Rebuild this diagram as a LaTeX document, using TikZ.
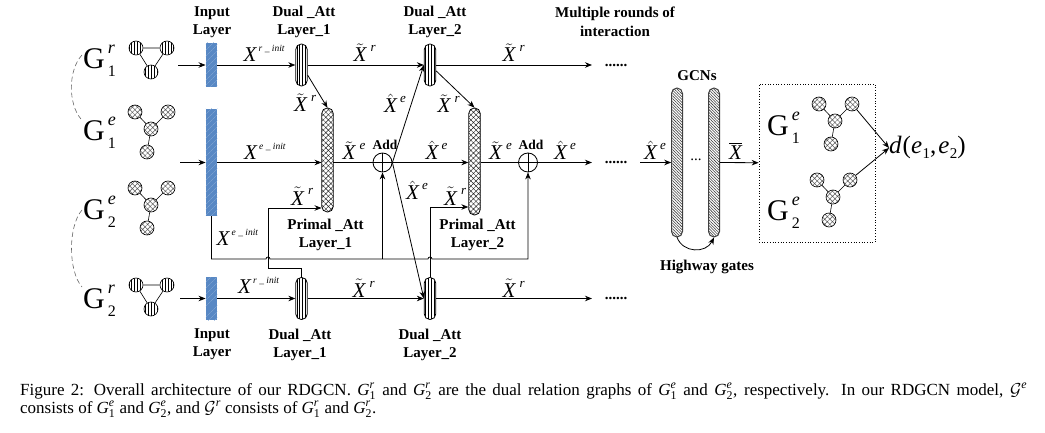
\documentclass[tikz,border=0pt]{standalone}
\usepackage{fontspec}
\usepackage{amsmath}
\setmainfont{Liberation Serif}
\usetikzlibrary{arrows.meta,patterns,patterns.meta,calc}
\definecolor{barblue}{RGB}{88,136,196}
\newcommand{\Xt}{$\tilde{\text{\itshape X}}$}
\newcommand{\Xh}{$\hat{\text{\itshape X}}$}
\newcommand{\Xb}{$\overline{\text{\itshape X}}$}
\newcommand{\lX}[4][13]{{\fontsize{21}{22}\selectfont #3\raisebox{10pt}{\fontsize{#1}{#1}\selectfont\itshape\kern#2 #4}}}
\newcommand{\Glab}[2]{{\fontsize{30}{30}\selectfont G\kern3pt\rlap{\raisebox{15pt}{\fontsize{18}{18}\selectfont\itshape #1}}\raisebox{-8pt}{\fontsize{16}{16}\selectfont #2}}}
\newcommand{\Gc}[2]{\textit{G}${}^{\text{\itshape #1}}_{\text{#2}}$}
\newcommand{\Gcal}[1]{$\mathcal{G}^{\text{\itshape #1}}$}
\newcommand{\mkEG}[3]{%
  \node[enode] (#1c) at (#2,#3) {};
  \node[enode] (#1a) at ($(#1c)+(-16,-17)$) {};
  \node[enode] (#1b) at ($(#1c)+(17,-17)$) {};
  \node[enode] (#1d) at ($(#1c)+(-4,23)$) {};
  \draw[line width=0.6pt] (#1c) -- (#1a) (#1c) -- (#1b) (#1c) -- (#1d);}
\newcommand{\mkRG}[3]{%
  \node[rnode] (#1a) at (#2,#3) {};
  \node[rnode] (#1b) at ($(#1a)+(31,0)$) {};
  \node[rnode] (#1c) at ($(#1a)+(15,24)$) {};
  \draw[line width=0.6pt] (#1a) -- (#1b) (#1a) -- (#1c) (#1b) -- (#1c);}
\begin{document}
\begin{tikzpicture}[x=1pt,y=-1pt,
  lbl/.style={inner sep=0pt, align=center, font=\bfseries\fontsize{15}{18.5}\selectfont},
  addl/.style={inner sep=0pt, font=\bfseries\fontsize{13.5}{14}\selectfont},
  lab/.style={inner sep=0pt, anchor=base west},
  dotsl/.style={inner sep=0pt, font=\bfseries\fontsize{15}{15}\selectfont},
  dual/.style={draw, line width=0.8pt, rounded corners=5.5pt, minimum width=11.5pt, minimum height=42pt, inner sep=0pt, pattern={Lines[angle=90,distance=2.8pt,line width=0.6pt]}},
  primal/.style={draw, line width=0.8pt, rounded corners=5.5pt, minimum width=11.5pt, minimum height=104pt, inner sep=0pt, pattern={Hatch[angle=45,distance=3.6pt,line width=0.45pt]}, pattern color=black!85},
  gcn/.style={draw=black!75, line width=1pt, rounded corners=5.5pt, minimum width=11pt, minimum height=149pt, inner sep=0pt, pattern={Lines[angle=-45,distance=2pt,line width=0.55pt]}, pattern color=black!80},
  inbar/.style={fill=barblue, minimum width=11.5pt, inner sep=0pt, postaction={pattern={Lines[angle=45,distance=4pt,line width=0.4pt]}, pattern color=barblue!70!white}},
  enode/.style={circle, draw, line width=0.6pt, minimum size=14pt, inner sep=0pt, pattern={Hatch[angle=45,distance=3.6pt,line width=0.5pt]}, pattern color=black!65},
  rnode/.style={circle, draw, line width=0.6pt, minimum size=14pt, inner sep=0pt, pattern={Lines[angle=90,distance=2.8pt,line width=0.6pt]}},
  addc/.style={circle, draw, line width=0.8pt, minimum size=19pt, inner sep=0pt, path picture={\draw[line width=0.8pt] (path picture bounding box.north) -- (path picture bounding box.south) (path picture bounding box.west) -- (path picture bounding box.east);}},
  arr/.style={-{Stealth[length=7pt,width=5.5pt]}, line width=0.8pt},
  ln/.style={line width=0.8pt},
  gdash/.style={dashed, dash pattern=on 5pt off 3pt, line width=0.6pt, black!60}
]
\useasboundingbox (0,0) rectangle (1045,433);

% ---------- left graph labels ----------
\node[lab] (G1r) at (83,69) {\Glab{r}{1}};
\node[lab] (G1e) at (83,141) {\Glab{e}{1}};
\node[lab] (G2e) at (83,219) {\Glab{e}{2}};
\node[lab] (G2r) at (83,308) {\Glab{r}{2}};
\coordinate (da1) at (82,55);
\coordinate (da2) at (81,119);
\coordinate (db1) at (82,210);
\coordinate (db2) at (82,287);
\draw[gdash] (da1) .. controls (68,70) and (68,104) .. (da2);
\draw[gdash] (db1) .. controls (68,226) and (68,271) .. (db2);

\mkRG{ra}{136}{48}
\mkEG{ea}{151}{129}
\mkEG{eb}{151}{205}
\mkRG{rb}{136}{285}

% ---------- input layers ----------
\node[inbar, minimum height=44pt] (in1) at (211.5,65) {};
\node[inbar, minimum height=107pt] (in2) at (211.5,162.5) {};
\node[inbar, minimum height=43pt] (in3) at (211.5,298.5) {};
\coordinate (s1) at (178,65);
\coordinate (s2) at (180,162.5);
\coordinate (s3) at (180,298.5);
\draw[arr] (s1) -- (in1);
\draw[arr] (s2) -- (in2);
\draw[arr] (s3) -- (in3);

% ---------- attention layers ----------
\node[dual] (d1t) at (301.5,65) {};
\node[dual] (d2t) at (430,65) {};
\node[dual] (d1b) at (301.5,298.5) {};
\node[dual] (d2b) at (430,298.5) {};
\node[primal] (p1) at (327.5,160) {};
\node[primal, minimum height=107pt] (p2) at (474.5,161.5) {};
\node[addc] (add1) at (382.5,162.5) {};
\node[addc] (add2) at (528,162.5) {};

% ---------- text labels ----------
\node[lbl] at (212,22) {Input\\Layer};
\node[lbl] at (304,22) {Dual \_Att\\Layer\_1};
\node[lbl] at (435,22) {Dual \_Att\\Layer\_2};
\node[lbl] at (615,22) {Multiple rounds of\\interaction};
\node[lbl] at (212,344) {Input\\Layer};
\node[lbl] at (300,345) {Dual \_Att\\Layer\_1};
\node[lbl] at (430,345) {Dual \_Att\\Layer\_2};
\node[lbl] at (325.5,235) {Primal \_Att\\Layer\_1};
\node[lbl] at (477.5,235) {Primal \_Att\\Layer\_2};
\node[addl] at (385,145) {Add};
\node[addl] at (531,145) {Add};

% ---------- rows ----------
\coordinate (e1) at (592,65);
\coordinate (e2) at (592,162.5);
\coordinate (e3) at (592,298.5);
\node[dotsl] at (616,65) {......};
\node[dotsl] at (616,162.5) {......};
\node[dotsl] at (616,298.5) {......};

\draw[arr] (in1) -- (d1t);
\draw[arr] (d1t) -- (d2t);
\draw[arr] (d2t) -- (e1);
\draw[arr] (d1t) -- (p1.north);
\draw[arr] (in2) -- (in2 -| p1.west);
\draw[ln] (add1 -| p1.east) -- (add1);
\draw[arr] (add1) -- (add1 -| p2.west);
\draw[arr] (add1.east) -- (d2t.west);
\draw[arr] (add1.east) -- (d2b.west);
\draw[arr] (d2t) -- (p2.north);
\draw[ln] (add2 -| p2.east) -- (add2);
\draw[arr] (add2) -- (e2);
\draw[arr] (in3) -- (d1b);
\draw[arr] (d1b) -- (d2b);
\draw[arr] (d2b) -- (e3);

\coordinate (c1) at (268,268);
\coordinate (h1) at (0,208);
\coordinate (h2) at (0,207);
\draw[arr] (d1b.north) |- (c1) |- (p1.west |- h1);
\draw[arr] (d2b.north) |- (p2.west |- h2);
\coordinate (la) at (266,259);
\coordinate (lb) at (428,259);
\draw[arr] (in2.south) |- (la) arc[start angle=180,end angle=360,radius=2] -- (lb) arc[start angle=180,end angle=360,radius=2] -- (add2 |- la) -- (add2.south);
\draw[arr] (add1 |- la) -- (add1.south);

% ---------- math labels ----------
\node[lab] at (243.5,62) {\lX[9.5]{1.5pt}{\textit{X}}{r \_ init}};
\node[lab] at (353.5,62) {\lX{4pt}{\Xt}{r}};
\node[lab] at (502.5,62) {\lX{4pt}{\Xt}{r}};
\node[lab] at (294,112) {\lX{4pt}{\Xt}{r}};
\node[lab] at (384,113) {\lX{3pt}{\Xh}{e}};
\node[lab] at (437.5,113) {\lX{4pt}{\Xt}{r}};
\node[lab] at (244,160) {\lX[9.5]{1.5pt}{\textit{X}}{e \_ init}};
\node[lab] at (342.5,160) {\lX{4pt}{\Xt}{e}};
\node[lab] at (425.5,160) {\lX{3pt}{\Xh}{e}};
\node[lab] at (489,160) {\lX{4pt}{\Xt}{e}};
\node[lab] at (554,160) {\lX{3pt}{\Xh}{e}};
\node[lab] at (291,205) {\lX{4pt}{\Xt}{r}};
\node[lab] at (406,200) {\lX{3pt}{\Xh}{e}};
\node[lab] at (444,205) {\lX{4pt}{\Xt}{r}};
\node[lab] at (216.5,245) {\lX[9.5]{1.5pt}{\textit{X}}{e \_ init}};
\node[lab] at (238,293) {\lX[9.5]{1.5pt}{\textit{X}}{r \_ init}};
\node[lab] at (352.5,297) {\lX{4pt}{\Xt}{r}};
\node[lab] at (502.5,297) {\lX{4pt}{\Xt}{r}};
\node[lab] at (644,160) {\lX{3pt}{\Xh}{e}};
\node[lab] at (729,160) {\lX{0pt}{\Xb}{}};

% ---------- GCNs ----------
\node[gcn] (g1) at (677,162.5) {};
\node[gcn] (g2) at (714,162.5) {};
\node[lbl] at (697,76) {GCNs};
\node[inner sep=0pt, font=\fontsize{15}{15}\selectfont] at (696,160) {...};
\node[lbl] at (707,267) {Highway gates};
\coordinate (gin) at (640,162.5);
\draw[arr, line width=1.2pt] (gin) -- (g1);
\draw[arr] (g1.south) .. controls +(6,16) and +(-8,16) .. (g2.south);

% ---------- output box ----------
\node[draw, dotted, line width=0.7pt, minimum width=116pt, minimum height=158pt, inner sep=0pt] (box) at (817,163) {};
\draw[arr] (g2) -- (box);
\node[lab] at (767,136) {\Glab{e}{1}};
\node[lab] at (767,221) {\Glab{e}{2}};
\mkEG{ba}{835}{121}
\mkEG{bb}{833}{197}
\node[lab] (dd) at (889,154) {\fontsize{25}{25}\selectfont\itshape d\kern1pt\upshape(\itshape e\kern0.5pt\raisebox{-5pt}{\fontsize{15}{15}\selectfont\upshape 1}\upshape,\kern2pt\itshape e\kern0.5pt\raisebox{-5pt}{\fontsize{15}{15}\selectfont\upshape 2}\upshape)};
\draw[arr] (bab) -- (dd.west);
\draw[arr] (bbb) -- (dd.west);

% ---------- caption ----------
\node[lab, font=\fontsize{17}{18}\selectfont] (cap1) at (20,395) {\makebox[1007pt][s]{Figure 2: Overall architecture of our RDGCN. \Gc{r}{1} and \Gc{r}{2} are the dual relation graphs of \Gc{e}{1} and \Gc{e}{2}, respectively. In our RDGCN model, \Gcal{e}}};
\node[lab, font=\fontsize{17}{18}\selectfont] (cap2) at (20,413) {consists of \Gc{e}{1} and \Gc{e}{2}, and \Gcal{r} consists of \Gc{r}{1} and \Gc{r}{2}.};
\end{tikzpicture}
\end{document}
